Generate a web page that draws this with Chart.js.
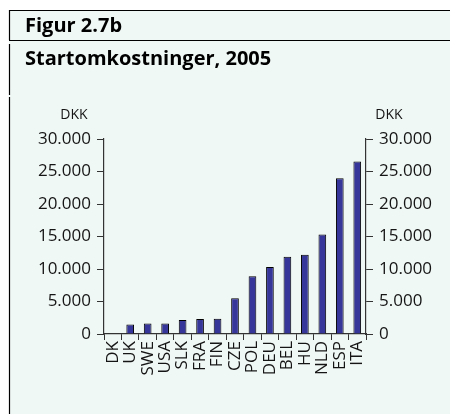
<!DOCTYPE html>
<html>
<head>
<meta charset="utf-8">
<script src="https://cdn.jsdelivr.net/npm/chart.js@4.4.1/dist/chart.umd.min.js"></script>
<style>
  html, body { margin: 0; padding: 0; background: #ffffff; }
  #wrap { position: relative; width: 450px; height: 414px; }
</style>
</head>
<body>
<div id="wrap"><canvas id="chart" width="450" height="414"></canvas></div>
<script>
// Data (DKK, 2005)
var countries = ['DK', 'UK', 'SWE', 'USA', 'SLK', 'FRA', 'FIN', 'CZE', 'POL', 'DEU', 'BEL', 'HU', 'NLD', 'ESP', 'ITA'];
var startCosts = [0, 1450, 1600, 1600, 2150, 2300, 2350, 5500, 8900, 10300, 11900, 12200, 15300, 23950, 26550];
var yTicks = [0, 5000, 10000, 15000, 20000, 25000, 30000];

var figLabel = 'Figur 2.7b';
var title = 'Startomkostninger, 2005';
var unit = 'DKK';

var mint = '#f0f8f5';
var ink = '#151515';
var fontFam = '"Open Sans", "Noto Sans", sans-serif';

function fmt(v) {
    // thousands separator is a dot
    return String(v).replace(/\B(?=(\d{3})+(?!\d))/g, '.');
}

// frame, headers and unit labels
var framePlugin = {
    id: 'frame',
    beforeDraw: function(chart) {
        var c = chart.ctx;
        c.save();
        c.fillStyle = '#ffffff';
        c.fillRect(0, 0, 450, 414);
        c.fillStyle = mint;
        c.fillRect(9, 10, 441, 404);
        c.strokeStyle = '#000';
        c.lineWidth = 1.2;
        c.beginPath();
        c.moveTo(9, 10.5); c.lineTo(450, 10.5);
        c.moveTo(9, 40.5); c.lineTo(450, 40.5);
        c.moveTo(9.5, 10); c.lineTo(9.5, 40);
        c.moveTo(9.5, 44); c.lineTo(9.5, 95);
        c.moveTo(9.5, 97); c.lineTo(9.5, 414);
        c.stroke();

        c.fillStyle = '#000';
        c.textBaseline = 'alphabetic';
        c.textAlign = 'left';
        c.font = 'bold 20px ' + fontFam;
        c.fillText(figLabel, 25, 32);
        c.fillText(title, 25, 65);

        c.fillStyle = ink;
        c.font = '14px ' + fontFam;
        c.textAlign = 'center';
        c.fillText(unit, 74, 119);
        c.fillText(unit, 389, 119);
        c.restore();
    }
};

var tickFont = { family: fontFam, size: 17 };

new Chart(document.getElementById('chart'), {
    type: 'bar',
    data: {
        labels: countries,
        datasets: [{
            data: startCosts,
            backgroundColor: '#35359a',
            borderColor: '#000000',
            borderWidth: 1,
            barPercentage: 0.44,
            categoryPercentage: 1.0,
            yAxisID: 'y'
        }]
    },
    options: {
        responsive: false,
        animation: false,
        layout: { padding: { top: 139, left: 0, right: 0, bottom: 0 } },
        plugins: { legend: { display: false }, tooltip: { enabled: false } },
        scales: {
            x: {
                grid: { drawOnChartArea: false, drawTicks: true, tickLength: 6, color: '#333', offset: true },
                border: { display: true, color: '#333', width: 1.2 },
                ticks: { color: ink, font: tickFont, minRotation: 90, maxRotation: 90, autoSkip: false, padding: 1 },
                afterFit: function(s) { s.height = 80; }
            },
            y: {
                position: 'left',
                min: 0, max: 30000,
                afterBuildTicks: function(s) { s.ticks = yTicks.map(function(v) { return { value: v }; }); },
                grid: { drawOnChartArea: false, drawTicks: true, tickLength: 7, color: '#333' },
                border: { display: true, color: '#333', width: 1.2 },
                ticks: { color: ink, font: tickFont, padding: 6, callback: function(v) { return fmt(v); } },
                afterFit: function(s) { s.width = 104; }
            },
            y2: {
                position: 'right',
                min: 0, max: 30000,
                afterBuildTicks: function(s) { s.ticks = yTicks.map(function(v) { return { value: v }; }); },
                grid: { drawOnChartArea: false, drawTicks: true, tickLength: 7, color: '#333' },
                border: { display: true, color: '#333', width: 1.2 },
                ticks: { color: ink, font: tickFont, padding: 6, callback: function(v) { return fmt(v); } },
                afterFit: function(s) { s.width = 84; }
            }
        }
    },
    plugins: [framePlugin]
});
</script>
</body>
</html>
